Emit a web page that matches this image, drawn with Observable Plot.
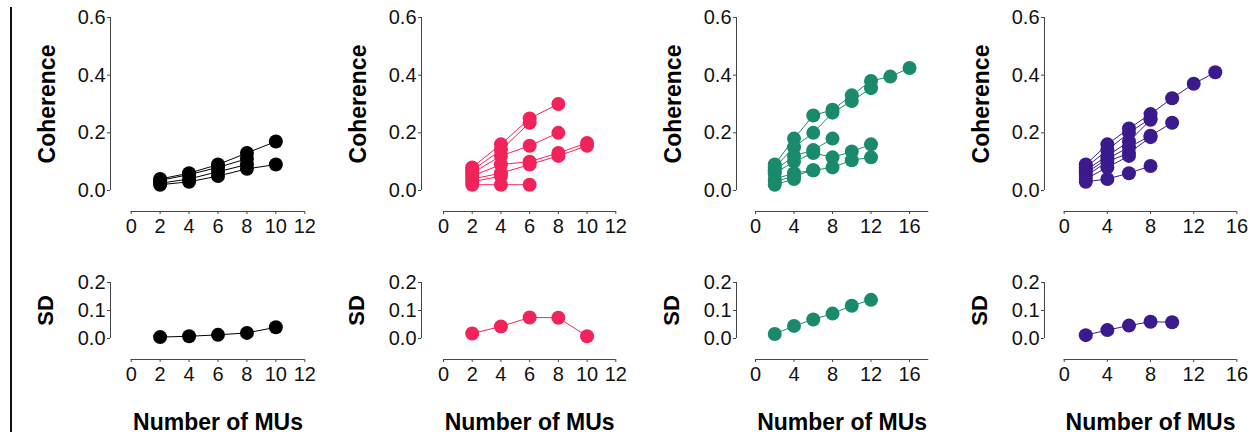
<!DOCTYPE html>
<html><head><meta charset="utf-8">
<script src="https://cdn.jsdelivr.net/npm/d3@7"></script>
<script src="https://cdn.jsdelivr.net/npm/@observablehq/plot@0.6"></script>
<style>
body{margin:0;background:#fff;}
#fig{position:relative;width:1255px;height:435px;overflow:hidden;background:#fff;font-family:"Liberation Sans",Arial,sans-serif;}
.vbar{position:absolute;left:10px;top:7px;width:2px;height:425px;background:#111;}
.cell{position:absolute;}
.cell svg{overflow:visible;display:block;}
</style></head><body><div id="fig"><div class="vbar"></div></div>
<script>
// ---- data ----
const nMUs = [2, 4, 6, 8, 10, 12, 14, 16];
const colors = ["#000000", "#f0245a", "#1a8a6c", "#3a1a8c"];
const xTicksA = [0, 2, 4, 6, 8, 10, 12];
const xTicksB = [0, 4, 8, 12, 16];
const xDomains = [[0, 12], [0, 12], [0, 18], [0, 16]];
const yTicksCoh = [0, 0.2, 0.4, 0.6];
const yTicksSD = [0, 0.1, 0.2];
const yLabelCoh = "Coherence";
const yLabelSD = "SD";
const xLabel = "Number of MUs";

// coherence per subject series; values at nMUs[0], nMUs[1], ...
const cohBlack = [
  [0.04, 0.06, 0.09, 0.13, 0.17],
  [0.035, 0.055, 0.08, 0.11],
  [0.025, 0.04, 0.065, 0.09],
  [0.02, 0.03, 0.05, 0.075, 0.09]
];
const cohRed = [
  [0.08, 0.16, 0.25, 0.30],
  [0.07, 0.14, 0.235],
  [0.06, 0.12, 0.155, 0.20],
  [0.05, 0.09, 0.10, 0.13, 0.165],
  [0.04, 0.06, 0.09, 0.12, 0.155],
  [0.03, 0.05],
  [0.02, 0.02, 0.02]
];
const cohGreen = [
  [0.09, 0.18, 0.26, 0.28, 0.33, 0.38, 0.395, 0.425],
  [0.08, 0.15, 0.20, 0.27, 0.31, 0.355],
  [0.07, 0.12, 0.14, 0.18],
  [0.06, 0.10, 0.13, 0.115, 0.135, 0.16],
  [0.04, 0.06, 0.07, 0.08, 0.105, 0.115],
  [0.03, 0.05, 0.07],
  [0.02, 0.04]
];
const cohPurple = [
  [0.09, 0.16, 0.215, 0.265, 0.32, 0.37, 0.41],
  [0.08, 0.14, 0.20, 0.25],
  [0.07, 0.12, 0.17, 0.245],
  [0.06, 0.11, 0.15, 0.19, 0.235],
  [0.05, 0.10, 0.13, 0.185],
  [0.04, 0.08, 0.12],
  [0.03, 0.04, 0.06, 0.085]
];
const sdBlack = [0.005, 0.008, 0.013, 0.02, 0.04];
const sdRed = [0.018, 0.043, 0.075, 0.074, 0.008];
const sdGreen = [0.016, 0.045, 0.068, 0.089, 0.117, 0.138];
const sdPurple = [0.012, 0.03, 0.046, 0.06, 0.058];

// ---- layout ----
const geos = [
  {yAxisX: 110, xStart: 130.7, xEnd: 304.3},
  {yAxisX: 420.7, xStart: 442.7, xEnd: 615},
  {yAxisX: 736, xStart: 755, xEnd: 928.3},
  {yAxisX: 1044.3, xStart: 1064, xEnd: 1236.7}
];
const columns = [
  {coh: cohBlack, sd: sdBlack, xTicks: xTicksA},
  {coh: cohRed, sd: sdRed, xTicks: xTicksA},
  {coh: cohGreen, sd: sdGreen, xTicks: xTicksB},
  {coh: cohPurple, sd: sdPurple, xTicks: xTicksB}
];

const ML = 100, MR = 26, GAP = 21;
const axisColor = "#444";
const fontFam = '"Liberation Sans", Arial, sans-serif';
const fig = document.getElementById("fig");

function toRows(series) {
  const rows = [];
  series.forEach((s, k) => s.forEach((v, i) => rows.push({id: k, n: nMUs[i], v})));
  return rows;
}

function panel(rows, o) {
  const g = o.geo;
  const inset = g.xStart - g.yAxisX;
  const width = ML + (g.xEnd - g.yAxisX) + MR;
  const marks = [
    Plot.ruleX([{x: o.xDomain[0], y1: o.yDomain[0], y2: o.yDomain[1]}], {x: "x", y1: "y1", y2: "y2", dx: -inset, stroke: axisColor, strokeWidth: 1}),
    Plot.ruleY([{y: o.yDomain[0], x1: o.xDomain[0], x2: o.xDomain[1]}], {y: "y", x1: "x1", x2: "x2", dy: GAP, stroke: axisColor, strokeWidth: 1}),
    Plot.axisY({ticks: o.yTicks, tickFormat: d3.format(".1f"), tickSize: 3, tickPadding: 2, label: null, stroke: axisColor}),
    Plot.axisX({ticks: o.xTicks, tickSize: 3, tickPadding: 4, label: null, stroke: axisColor}),
    Plot.line(rows, {x: "n", y: "v", z: "id", stroke: o.color, strokeWidth: 1}),
    Plot.dot(rows, {x: "n", y: "v", r: 7, fill: o.color}),
    Plot.text([o.yLabel], {text: d => d, frameAnchor: "left", dx: o.labelDx, dy: -GAP / 2, rotate: -90, textAnchor: "middle", lineAnchor: "middle", fontSize: o.yLabelSize, fontWeight: "bold", fill: "#000"})
  ];
  if (o.xLabel) marks.push(Plot.text([o.xLabel], {text: d => d, frameAnchor: "bottom", dx: inset / 2, dy: 63, textAnchor: "middle", lineAnchor: "middle", fontSize: 23, fontWeight: "bold", fill: "#000"}));
  const svg = Plot.plot({
    width, height: o.height,
    marginLeft: ML, marginRight: MR, marginTop: o.marginTop, marginBottom: o.height - o.frameBottom,
    x: {domain: o.xDomain, insetLeft: inset},
    y: {domain: o.yDomain, insetBottom: GAP},
    style: {background: "transparent", fontSize: "20px", fontFamily: fontFam, color: "#111", overflow: "visible"},
    marks
  });
  const div = document.createElement("div");
  div.className = "cell";
  div.style.left = (g.yAxisX - ML) + "px";
  div.style.top = o.top + "px";
  div.style.width = width + "px";
  div.appendChild(svg);
  fig.appendChild(div);
}

columns.forEach((c, i) => {
  const common = {color: colors[i], xDomain: xDomains[i], xTicks: c.xTicks, geo: geos[i]};
  panel(toRows(c.coh), {...common, yDomain: [0, 0.6], yTicks: yTicksCoh, yLabel: yLabelCoh, yLabelSize: 23, labelDx: -63,
    top: 0, marginTop: 17, frameBottom: 211, height: 245});
  panel(toRows([c.sd]), {...common, yDomain: [0, 0.2], yTicks: yTicksSD, yLabel: yLabelSD, yLabelSize: 22, labelDx: -65,
    top: 250, marginTop: 32, frameBottom: 109, height: 185, xLabel});
});
</script></body></html>
